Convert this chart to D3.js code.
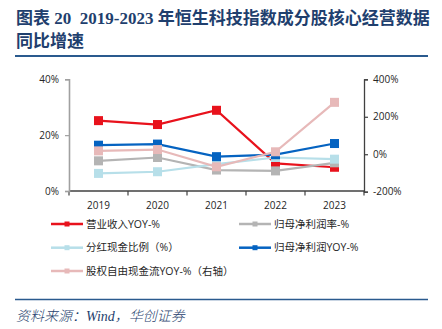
<!DOCTYPE html>
<html lang="zh">
<head>
<meta charset="utf-8">
<title>2019-2023年恒生科技指数成分股核心经营数据同比增速</title>
<script src="https://d3js.org/d3.v7.min.js"></script>
<style>
body { margin: 0; background: #fff; }
svg text { font-family: "Open Sans", "Noto Sans CJK SC", sans-serif; }
.title { font-family: "Liberation Serif", "Noto Sans CJK SC", serif !important; font-weight: bold; fill: #1f3f6e; font-size: 17px; white-space: pre; }
.source { font-family: "Liberation Serif", "Noto Sans CJK SC", serif !important; font-style: italic; fill: #1f3f6e; font-size: 14px; font-weight: 300; }
</style>
</head>
<body>
<div id="chart"></div>
<script>
// data
var years = ["2019", "2020", "2021", "2022", "2023"];
var revenueYoy   = [25.2, 23.8, 28.9, 9.9, 8.5];     // 营业收入YOY-%
var netMargin    = [10.8, 12.0, 7.5, 7.2, 10.1];     // 归母净利润率-%
var payoutRatio  = [6.3, 6.9, 9.6, 12.0, 11.4];      // 分红现金比例（%）
var netProfitYoy = [16.4, 16.8, 12.3, 13.0, 17.0];   // 归母净利润YOY-%
var fcfeYoy      = [18, 25, -67, 13, 277];           // 股权自由现金流YOY-%（右轴）
var leftTicks  = [0, 20, 40];
var rightTicks = [-200, 0, 200, 400];

var series = [
  {name: "营业收入YOY-%",          values: revenueYoy,   color: "#e8121c", axis: "left"},
  {name: "归母净利润率-%",          values: netMargin,    color: "#b4b4b4", axis: "left"},
  {name: "分红现金比例（%）",       values: payoutRatio,  color: "#b7dfe9", axis: "left"},
  {name: "归母净利润YOY-%",        values: netProfitYoy, color: "#0563c1", axis: "left"},
  {name: "股权自由现金流YOY-%（右轴）", values: fcfeYoy,  color: "#e7b9b9", axis: "right"}
];

var W = 442, H = 329;
var svg = d3.select("#chart").append("svg")
  .attr("width", W).attr("height", H);

// title + rules
svg.append("text").attr("class", "title").attr("x", 16).attr("y", 24)
  .text("图表 20  2019-2023 年恒生科技指数成分股核心经营数据");
svg.append("text").attr("class", "title").attr("x", 16).attr("y", 47)
  .text("同比增速");
svg.append("line").attr("x1", 15).attr("x2", 428).attr("y1", 56).attr("y2", 56)
  .attr("stroke", "#2a5a8e").attr("stroke-width", 2);
svg.append("line").attr("x1", 15).attr("x2", 428).attr("y1", 299.5).attr("y2", 299.5)
  .attr("stroke", "#2a5a8e").attr("stroke-width", 1.5);
svg.append("text").attr("class", "source").attr("x", 16).attr("y", 321)
  .text("资料来源：Wind，华创证券");

// plot area
var plotLeft = 69, plotRight = 364, plotTop = 79.3, plotBottom = 191;

var x = d3.scaleBand().domain(years).range([plotLeft, plotRight]);
var yL = d3.scaleLinear().domain([0, 40]).range([plotBottom, plotTop]);
var yR = d3.scaleLinear().domain([-200, 400]).range([plotBottom + 0.7, plotTop]);

// bottom axis with ticks at category boundaries
var bx = svg.append("g");
bx.append("line").attr("x1", plotLeft).attr("x2", plotRight).attr("y1", plotBottom).attr("y2", plotBottom)
  .attr("stroke", "#404040").attr("stroke-width", 1.3);
var bounds = years.map(function(d) { return x(d); }).concat([plotRight]);
bx.selectAll(".xt").data(bounds).enter().append("line")
  .attr("x1", function(d) { return d; }).attr("x2", function(d) { return d; })
  .attr("y1", plotBottom).attr("y2", plotBottom + 4.5)
  .attr("stroke", "#404040").attr("stroke-width", 1.2);
bx.selectAll(".xl").data(years).enter().append("text")
  .attr("x", function(d) { return x(d) + x.bandwidth() / 2; })
  .attr("y", 209).attr("text-anchor", "middle")
  .attr("font-size", 10).attr("fill", "#262626")
  .text(function(d) { return d; });

// left axis
var la = svg.append("g").attr("transform", "translate(" + plotLeft + ",0)")
  .call(d3.axisLeft(yL).tickValues(leftTicks).tickSize(4).tickFormat(function(d) { return d + "%"; }));
la.select(".domain").attr("stroke", "#a0a0a0").attr("stroke-width", 1.6);
la.selectAll(".tick line").attr("stroke", "#a0a0a0").attr("stroke-width", 1.2);
la.selectAll(".tick text").attr("font-size", 10).attr("fill", "#262626").attr("x", -10)
  .style("font-family", "'Open Sans', sans-serif");

// right axis
var ra = svg.append("g").attr("transform", "translate(" + plotRight + ",0)")
  .call(d3.axisRight(yR).tickValues(rightTicks).tickSize(4).tickFormat(function(d) { return d + "%"; }));
ra.select(".domain").attr("stroke", "#404040").attr("stroke-width", 1.3);
ra.selectAll(".tick line").attr("stroke", "#404040").attr("stroke-width", 1.2);
ra.selectAll(".tick text").attr("font-size", 10).attr("fill", "#262626").attr("x", 9)
  .style("font-family", "'Open Sans', sans-serif");

// series
var cx = function(d, i) { return x(years[i]) + x.bandwidth() / 2; };
series.forEach(function(s) {
  var y = s.axis === "left" ? yL : yR;
  var g = svg.append("g");
  g.append("path").datum(s.values)
    .attr("fill", "none").attr("stroke", s.color).attr("stroke-width", 2.2)
    .attr("d", d3.line().x(cx).y(function(d) { return y(d); }));
  g.selectAll("rect").data(s.values).enter().append("rect")
    .attr("x", function(d, i) { return cx(d, i) - 4.5; })
    .attr("y", function(d) { return y(d) - 4.5; })
    .attr("width", 9).attr("height", 9)
    .attr("fill", s.color);
});

// legend
var legendPos = [[51, 224], [239, 224], [51, 247.7], [239, 247.7], [51, 271]];
series.forEach(function(s, i) {
  var p = legendPos[i];
  var g = svg.append("g").attr("transform", "translate(" + p[0] + "," + p[1] + ")");
  g.append("line").attr("x1", 0).attr("x2", 32).attr("y1", 0).attr("y2", 0)
    .attr("stroke", s.color).attr("stroke-width", 2.5);
  g.append("rect").attr("x", 13.5).attr("y", -2.5).attr("width", 5).attr("height", 5)
    .attr("fill", s.color);
  g.append("text").attr("x", 35).attr("y", 0).attr("dy", "0.35em")
    .attr("font-size", 10.5).attr("fill", "#262626")
    .text(s.name);
});
</script>
</body>
</html>
